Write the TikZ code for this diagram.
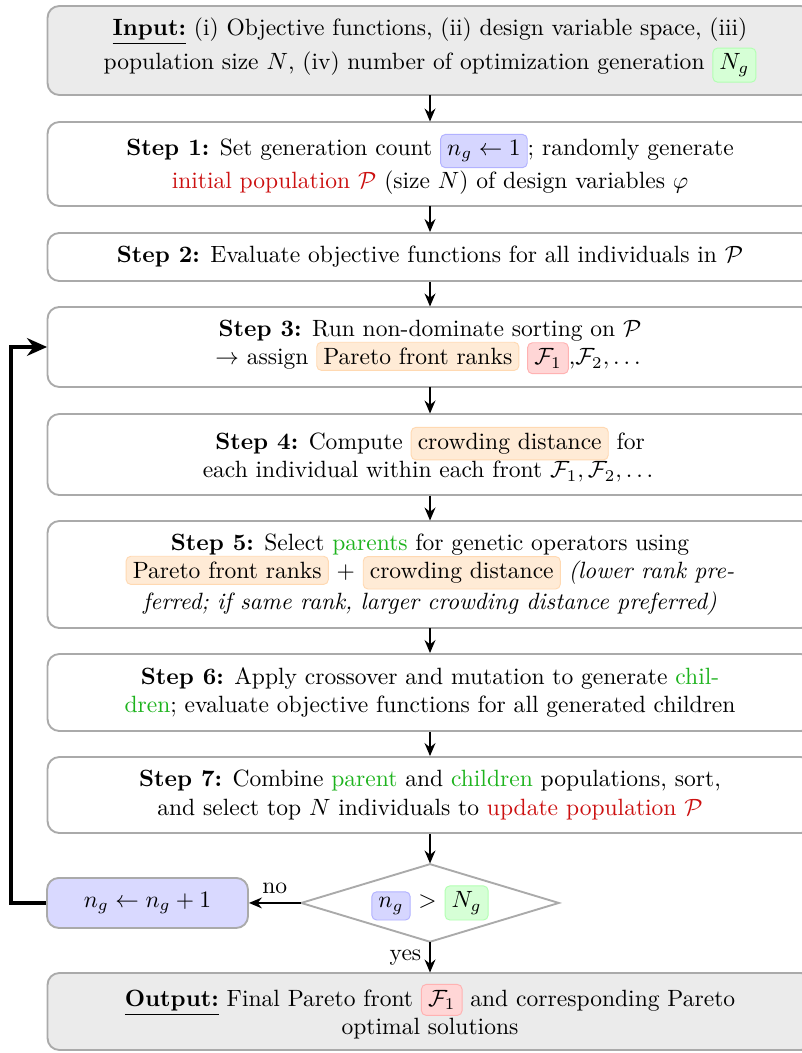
\documentclass[tikz,border=0pt]{standalone}
\usepackage{amssymb, amsmath}
\usepackage{tikz}
\usetikzlibrary{arrows.meta}
\usetikzlibrary{shapes.geometric}
\definecolor{ga-red}{HTML}{CC1010}
\definecolor{ga-green}{HTML}{1DB31D}
\definecolor{ga-edge}{HTML}{AAAAAA}
\definecolor{ga-io}{HTML}{EBEBEB}

% small coloured tag inside the text of a box
\newcommand{\hlbox}[2]{\tikz[baseline=(hb.base)]\node[shape=rectangle, fill=#1!16, draw=#1!30, line width=0.4pt, rounded corners=2pt, inner xsep=2.8pt, inner ysep=2.4pt, minimum width=0pt, minimum height=0pt] (hb) {#2};}

\begin{document}
\begin{tikzpicture}[thick,
    stepbox/.style={draw=ga-edge, fill=white, rounded corners=5pt, minimum width=11.424cm, align=center, inner sep=3pt},
    iobox/.style={stepbox, fill=ga-io},
    checkbox/.style={diamond, draw=ga-edge, fill=white, aspect=3.3, minimum width=3.853cm, minimum height=1.165cm, inner sep=1pt},
    incbox/.style={draw=ga-edge, fill=blue!15, rounded corners=5pt, minimum width=3.002cm, minimum height=0.747cm},
    arr/.style={-{Stealth[length=5.5pt, width=4.6pt]}, thick}]

    % Page size as in the reference
    \useasboundingbox (0,0) rectangle (11.977,-15.726);

    % Input box
    \node[iobox, minimum height=1.329cm] (in) at (6.422, -0.754) {\underline{\textbf{Input:}} (i) Objective functions, (ii) design variable space, (iii)\\ population size $N$, (iv) number of optimization generation \hlbox{green}{$N_g$}};

    % Steps
    \node[stepbox, minimum height=1.254cm] (s1) at (6.422, -2.449) {\textbf{Step 1:} Set generation count \hlbox{blue}{$n_g \leftarrow 1$}; randomly generate\\ \textcolor{ga-red}{initial population $\mathcal{P}$} (size $N$) of design variables $\varphi$};
    \node[stepbox, minimum height=0.717cm] (s2) at (6.422, -3.838) {\textbf{Step 2:} Evaluate objective functions for all individuals in $\mathcal{P}$};
    \node[stepbox, minimum height=1.195cm] (s3) at (6.422, -5.182) {\textbf{Step 3:} Run non-dominate sorting on $\mathcal{P}$\\ $\rightarrow$ assign \hlbox{orange}{Pareto front ranks} \hlbox{red}{$\mathcal{F}_1$},$\mathcal{F}_2, \dots$};
    \node[stepbox, minimum height=1.210cm] (s4) at (6.422, -6.788) {\textbf{Step 4:} Compute \hlbox{orange}{crowding distance} for\\ each individual within each front $\mathcal{F}_1, \mathcal{F}_2, \dots$};
    \node[stepbox, minimum height=1.598cm] (s5) at (6.422, -8.580) {\textbf{Step 5:} Select \textcolor{ga-green}{parents} for genetic operators using\\ \hlbox{orange}{Pareto front ranks} + \hlbox{orange}{crowding distance} \textit{(lower rank pre-}\\ \textit{ferred; if same rank, larger crowding distance preferred)}};
    \node[stepbox, minimum height=1.150cm] (s6) at (6.422, -10.342) {\textbf{Step 6:} Apply crossover and mutation to generate \textcolor{ga-green}{chil-}\\ \textcolor{ga-green}{dren}; evaluate objective functions for all generated children};
    \node[stepbox, minimum height=1.135cm] (s7) at (6.422, -11.873) {\textbf{Step 7:} Combine \textcolor{ga-green}{parent} and \textcolor{ga-green}{children} populations, sort,\\ and select top $N$ individuals to \textcolor{ga-red}{update population $\mathcal{P}$}};

    % Stop test and counter
    \node[checkbox] (check) at (6.422, -13.485) {\hlbox{blue}{$n_g$} $>$ \hlbox{green}{$N_g$}};
    \node[incbox] (inc) at (2.203, -13.485) {$n_g \leftarrow n_g + 1$};

    % Output box
    \node[iobox, minimum height=1.150cm] (out) at (6.422, -15.106) {\underline{\textbf{Output:}} Final Pareto front \hlbox{red}{$\mathcal{F}_1$} and corresponding Pareto\\ optimal solutions};

    % Arrows down the chain
    \foreach \a/\b in {in/s1, s1/s2, s2/s3, s3/s4, s4/s5, s5/s6, s6/s7, s7/check} {
        \draw[arr] (\a) -- (\b);
    }
    \draw[arr] (check) -- node[left] {yes} (out);
    \draw[arr] (check) -- node[above] {no} (inc);

    % Loop back to step 3
    \draw[ultra thick, -{Stealth[length=8.5pt, width=7.5pt]}] (inc.west) -- ++(-0.523,0) |- (s3.west);
\end{tikzpicture}
\end{document}
